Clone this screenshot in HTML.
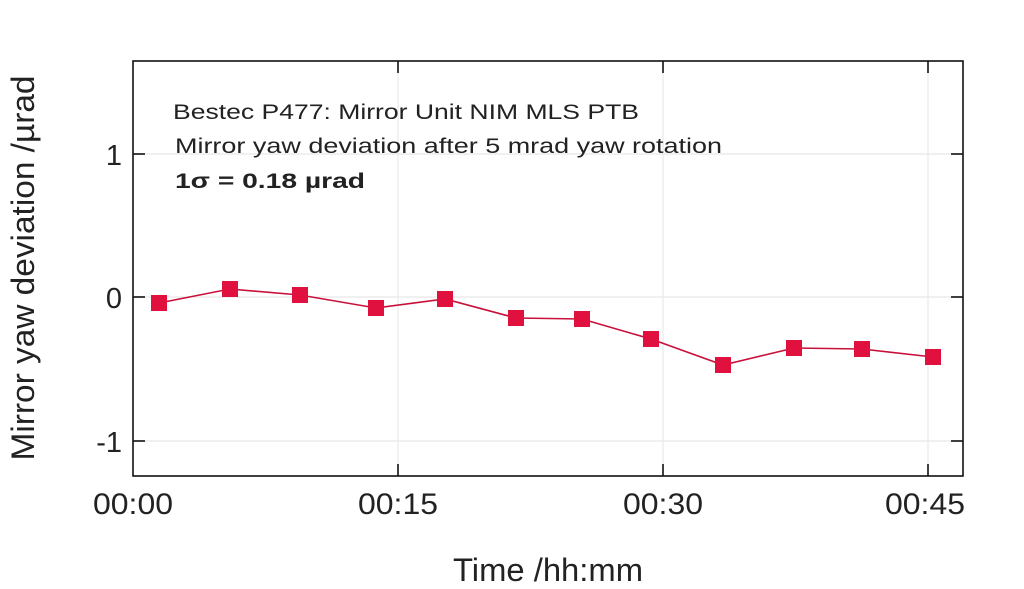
<!DOCTYPE html>
<html><head><style>html,body{margin:0;padding:0;background:#fff;}svg{display:block}</style></head>
<body>
<svg width="1024" height="589" xmlns="http://www.w3.org/2000/svg" font-family="Liberation Sans, sans-serif">
<rect width="1024" height="589" fill="#fff"/>
<g stroke="#e8e8e8" stroke-width="1.2">
<line x1="398" y1="61" x2="398" y2="476"/><line x1="663" y1="61" x2="663" y2="476"/><line x1="928" y1="61" x2="928" y2="476"/>
<line x1="133" y1="154" x2="963" y2="154"/><line x1="133" y1="297" x2="963" y2="297"/><line x1="133" y1="441" x2="963" y2="441"/>
</g>
<g stroke="#111" stroke-width="1.6">
<rect x="133" y="61" width="830" height="415" fill="none"/>
<line x1="133" y1="154" x2="145" y2="154"/><line x1="133" y1="297" x2="145" y2="297"/><line x1="133" y1="441" x2="145" y2="441"/>
<line x1="963" y1="154" x2="951" y2="154"/><line x1="963" y1="297" x2="951" y2="297"/><line x1="963" y1="441" x2="951" y2="441"/>
<line x1="398" y1="476" x2="398" y2="464"/><line x1="663" y1="476" x2="663" y2="464"/><line x1="928" y1="476" x2="928" y2="464"/>
<line x1="398" y1="61" x2="398" y2="73"/><line x1="663" y1="61" x2="663" y2="73"/><line x1="928" y1="61" x2="928" y2="73"/>
</g>
<polyline fill="none" stroke="#c8103a" stroke-width="1.6" points="159,303 230,289 300,295 376,308 445,299 516,318 582,319 651,339 723,365 794,348 862,349 933,357"/>
<g fill="#e0103f">
<rect x="151" y="295" width="16" height="16"/><rect x="222" y="281" width="16" height="16"/><rect x="292" y="287" width="16" height="16"/><rect x="368" y="300" width="16" height="16"/><rect x="437" y="291" width="16" height="16"/><rect x="508" y="310" width="16" height="16"/><rect x="574" y="311" width="16" height="16"/><rect x="643" y="331" width="16" height="16"/><rect x="715" y="357" width="16" height="16"/><rect x="786" y="340" width="16" height="16"/><rect x="854" y="341" width="16" height="16"/><rect x="925" y="349" width="16" height="16"/>
</g>
<g font-size="29" fill="#222" text-anchor="end">
<text x="122" y="165">1</text><text x="122" y="308">0</text><text x="122" y="452">-1</text>
</g>
<g font-size="30" fill="#222" text-anchor="middle">
<text x="133" y="514" textLength="80" lengthAdjust="spacingAndGlyphs">00:00</text><text x="398" y="514" textLength="80" lengthAdjust="spacingAndGlyphs">00:15</text><text x="663" y="514" textLength="80" lengthAdjust="spacingAndGlyphs">00:30</text><text x="925" y="514" textLength="80" lengthAdjust="spacingAndGlyphs">00:45</text>
<text x="548" y="581" font-size="32" textLength="190" lengthAdjust="spacingAndGlyphs">Time /hh:mm</text>
</g>
<text transform="translate(34,268) rotate(-90)" font-size="32" fill="#222" text-anchor="middle" textLength="385" lengthAdjust="spacingAndGlyphs">Mirror yaw deviation /µrad</text>
<g font-size="21" fill="#222">
<text x="173" y="119" textLength="466" lengthAdjust="spacingAndGlyphs">Bestec P477: Mirror Unit NIM MLS PTB</text>
<text x="175" y="153" textLength="547" lengthAdjust="spacingAndGlyphs">Mirror yaw deviation after 5 mrad yaw rotation</text>
<text x="175" y="188" font-weight="bold" textLength="190" lengthAdjust="spacingAndGlyphs">1σ = 0.18 µrad</text>
</g>
</svg>
</body></html>
